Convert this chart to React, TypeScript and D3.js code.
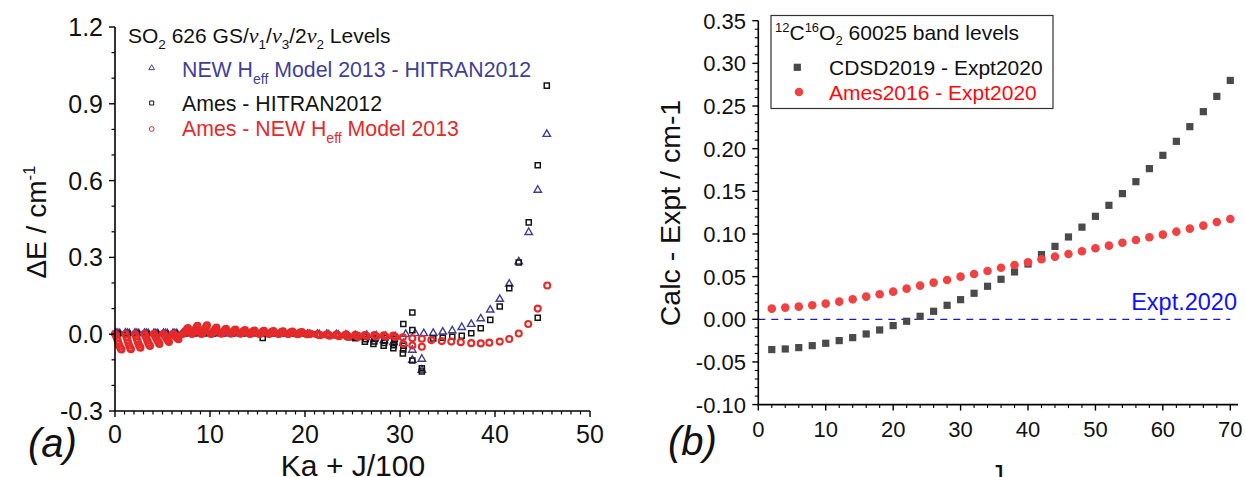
import React from 'react';
import * as d3 from 'd3';

const FONT = "'Liberation Sans', Arial, Helvetica, sans-serif";
const SERIF = "'Liberation Serif', 'DejaVu Serif', serif";

// ---------------- Panel (a): SO2 levels, x = Ka + J/100 ----------------
const J_GRID = [0, 10, 20, 30, 40, 50, 60, 68];
// Ames - NEW Heff Model 2013, one row per Ka (0..29), values at J_GRID
const AMES_NEW_ROWS: (number | null)[][] = [
  [0.002, -0.006, -0.016, -0.027, -0.038, -0.048, -0.056, -0.060],
  [null, 0.001, -0.010, -0.022, -0.034, -0.045, -0.054, -0.059],
  [null, 0.001, -0.008, -0.019, -0.030, -0.040, -0.048, -0.053],
  [null, 0.002, -0.006, -0.015, -0.025, -0.034, -0.041, -0.046],
  [null, 0.002, -0.004, -0.012, -0.020, -0.027, -0.033, -0.038],
  [null, 0.002, -0.002, -0.008, -0.014, -0.020, -0.026, -0.030],
  [null, 0.002, 0.000, -0.004, -0.009, -0.013, -0.017, -0.020],
  [null, 0.001, 0.003, 0.006, 0.010, 0.015, 0.020, 0.024],
  [null, 0.001, 0.004, 0.008, 0.014, 0.020, 0.027, 0.033],
  [null, 0.001, 0.004, 0.009, 0.015, 0.022, 0.029, 0.035],
  [null, 0.001, 0.003, 0.007, 0.011, 0.016, 0.021, 0.026],
  [null, null, 0.002, 0.005, 0.009, 0.013, 0.017, 0.021],
  [null, null, 0.002, 0.005, 0.008, 0.011, 0.015, 0.018],
  [null, null, 0.002, 0.004, 0.007, 0.010, 0.013, 0.016],
  [null, null, 0.001, 0.003, 0.006, 0.009, 0.012, 0.014],
  [null, null, 0.001, 0.003, 0.005, 0.008, 0.011, 0.013],
  [null, null, 0.001, 0.003, 0.005, 0.007, 0.010, 0.012],
  [null, null, 0.001, 0.002, 0.004, 0.006, 0.009, 0.011],
  [null, null, 0.001, 0.002, 0.004, 0.006, 0.008, 0.010],
  [null, null, 0.000, 0.001, 0.003, 0.005, 0.006, 0.008],
  [null, null, 0.000, 0.000, 0.001, 0.001, 0.002, null],
  [null, null, null, 0.000, -0.001, -0.002, -0.004, null],
  [null, null, null, 0.000, -0.002, -0.004, -0.006, null],
  [null, null, null, -0.001, -0.003, -0.005, -0.008, null],
  [null, null, null, -0.001, -0.004, -0.007, -0.010, null],
  [null, null, null, -0.002, -0.005, -0.008, -0.011, null],
  [null, null, null, -0.003, -0.005, -0.008, null, null],
  [null, null, null, -0.003, -0.006, -0.009, null, null],
  [null, null, null, -0.004, -0.007, -0.010, null, null],
  [null, null, null, -0.005, -0.008, -0.011, null, null],
];
const AMES_NEW_HIGH: [number, number][] = [
  [30.3, -0.012], [30.35, -0.038], [31.3, -0.016], [31.3, -0.044], [32.3, -0.018], [32.3, -0.049],
  [33.3, -0.023], [34.4, -0.027], [35.4, -0.029], [36.4, -0.031], [37.5, -0.035], [38.5, -0.036],
  [39.4, -0.033], [40.5, -0.029], [41.5, -0.019], [42.5, 0.003], [43.5, 0.040], [44.5, 0.100], [45.5, 0.190],
];

// NEW Heff Model 2013 - HITRAN2012
const BB_J = [10, 30, 50];
const NEW_HIT_ROWS: (number | null)[][] = [
  [0.005, 0.004, 0.003], [0.005, 0.004, 0.003], [0.005, 0.004, 0.003], [0.004, 0.004, 0.003],
  [0.004, 0.003, 0.003], [0.004, 0.003, 0.003], [0.004, 0.003, 0.003], [0.003, 0.003, 0.003],
  [0.003, 0.003, 0.003], [0.003, 0.003, 0.002], [0.003, 0.003, 0.002], [null, 0.003, 0.002],
  [null, 0.003, 0.002], [null, 0.002, 0.002], [null, 0.002, 0.002], [null, 0.002, 0.001],
  [null, 0.002, 0.001], [null, 0.001, 0.001], [null, 0.001, 0.000], [null, 0.001, 0.000],
  [null, 0.001, 0.000], [null, 0.000, -0.001], [null, 0.000, -0.002], [null, -0.001, -0.003],
  [null, -0.003, -0.006], [null, -0.005, -0.010], [null, -0.010, -0.004], [null, -0.016, -0.006],
  [null, -0.024, -0.008], [null, -0.032, -0.010],
];
const NEW_HIT_HIGH: [number, number][] = [
  [30.35, -0.036], [30.6, 0.000], [31.3, -0.062], [31.3, -0.101], [31.6, 0.003], [32.3, -0.097],
  [32.3, -0.140], [32.5, 0.003], [33.5, 0.004], [34.5, 0.009], [35.5, 0.014], [36.5, 0.027],
  [37.5, 0.039], [38.5, 0.061], [39.5, 0.095], [40.5, 0.137], [41.5, 0.196], [42.5, 0.283],
  [43.55, 0.398], [44.5, 0.563], [45.45, 0.781],
];

// Ames - HITRAN2012
const AMES_HIT_LOW: [number, number][] = [
  [0.3, 0.002], [1.3, 0.002], [2.3, 0.002], [3.3, 0.002], [4.3, 0.002], [5.3, 0.002], [6.3, 0.003],
  [7.3, 0.003], [8.3, 0.004], [9.3, 0.004], [10.3, 0.003], [11.3, 0.003], [12.3, 0.003], [13.3, 0.002],
  [14.3, 0.002], [15.55, -0.015], [16.3, 0.002], [17.3, 0.002], [18.3, 0.003], [19.6, 0.006],
  [20.3, 0.001], [21.3, 0.000], [22.3, -0.002], [23.3, -0.004], [24.3, -0.003], [24.45, -0.008],
  [24.6, -0.012], [25.3, -0.016], [25.4, -0.010], [25.5, -0.005], [26.3, -0.029], [26.38, -0.020],
  [26.46, -0.011], [27.2, -0.038], [27.3, -0.028], [27.4, -0.017], [28.28, -0.045], [28.34, -0.034],
  [28.4, -0.024], [28.46, -0.014], [29.3, -0.055], [29.35, -0.043], [29.4, -0.030], [29.46, -0.018],
];
const AMES_HIT_HIGH: [number, number][] = [
  [30.3, -0.075], [30.35, -0.060], [30.4, -0.045], [30.35, 0.040], [31.3, 0.085], [31.3, 0.016],
  [31.3, -0.103], [32.3, -0.133], [32.3, -0.146], [33.5, -0.017], [34.5, -0.014], [35.5, -0.010],
  [36.5, -0.006], [37.5, 0.004], [38.5, 0.023], [39.5, 0.056], [40.5, 0.108], [41.5, 0.180],
  [42.5, 0.280], [43.55, 0.437], [44.5, 0.660], [44.5, 0.064], [45.45, 0.971],
];

const A_X_TICKS = [0, 10, 20, 30, 40, 50];
const A_Y_TICKS = [-0.3, 0.0, 0.3, 0.6, 0.9, 1.2];

// ---------------- Panel (b): 12C16O2 60025 band ----------------
const J_VALUES = [2, 4, 6, 8, 10, 12, 14, 16, 18, 20, 22, 24, 26, 28, 30, 32, 34, 36, 38, 40, 42, 44, 46, 48, 50, 52, 54, 56, 58, 60, 62, 64, 66, 68, 70];
const CDSD_MINUS_EXPT = [
  -0.0355, -0.0348, -0.0332, -0.0309, -0.0281, -0.0250, -0.0215, -0.0172, -0.0125, -0.0074, -0.0023, 0.0035,
  0.0094, 0.0164, 0.0230, 0.0305, 0.0387, 0.0469, 0.0555, 0.0648, 0.0758, 0.0855, 0.0965, 0.1080,
  0.1207, 0.1336, 0.1473, 0.1613, 0.1766, 0.1922, 0.2086, 0.2258, 0.2434, 0.2613, 0.2800,
];
const AMES_MINUS_EXPT = [
  0.0125, 0.0137, 0.0148, 0.0164, 0.0184, 0.0207, 0.0234, 0.0266, 0.0293, 0.0324, 0.0359, 0.0395,
  0.0430, 0.0461, 0.0500, 0.0531, 0.0566, 0.0605, 0.0637, 0.0668, 0.0703, 0.0734, 0.0766, 0.0797,
  0.0832, 0.0863, 0.0898, 0.0930, 0.0961, 0.0992, 0.1027, 0.1063, 0.1098, 0.1141, 0.1176,
];
const B_X_TICKS = [0, 10, 20, 30, 40, 50, 60, 70];
const B_Y_TICKS = [-0.10, -0.05, 0.00, 0.05, 0.10, 0.15, 0.20, 0.25, 0.30, 0.35];

const BLUE = '#3f3f98';
const RED = '#e52a2a';
const BLACK = '#151515';

const triPath = d3.symbol().type(d3.symbolTriangle).size(24)() as string;
const sqPath = d3.symbol().type(d3.symbolSquare).size(26)() as string;
const triLeg = d3.symbol().type(d3.symbolTriangle).size(14)() as string;
const sqLeg = d3.symbol().type(d3.symbolSquare).size(16)() as string;

const locale = d3.formatLocale({ decimal: '.', thousands: ',', grouping: [3], currency: ['', ''], minus: '-' });
const fmtA = locale.format('.1f');
const fmtB = locale.format('.2f');

function rowsToPoints(rows: (number | null)[][], grid: number[]): [number, number][] {
  const out: [number, number][] = [];
  rows.forEach((row, ka) => row.forEach((v, i) => { if (v != null) out.push([ka + grid[i] / 100, v]); }));
  return out;
}

export default function App() {
  // panel a scales
  const xA = d3.scaleLinear().domain([0, 50]).range([115, 590]);
  const yA = d3.scaleLinear().domain([-0.3, 1.2]).range([411, 27]);
  // panel b scales
  const xB = d3.scaleLinear().domain([0, 70]).range([758.3, 1230.3]);
  const yB = d3.scaleLinear().domain([-0.1, 0.35]).range([404.6, 20.7]);

  const redPts = rowsToPoints(AMES_NEW_ROWS, J_GRID).concat(AMES_NEW_HIGH);
  const bluePts = rowsToPoints(NEW_HIT_ROWS, BB_J).concat(NEW_HIT_HIGH);
  const blackPts = AMES_HIT_LOW.concat(AMES_HIT_HIGH);

  const aMinorX = d3.range(0, 51).filter((v) => v % 10 !== 0);
  const aMinorY = d3.range(-3, 13).map((v) => v / 10).filter((v) => Math.abs(Math.round(v * 10) % 3) !== 0);
  const bMinorX = d3.range(0, 72, 2).filter((v) => v % 10 !== 0);
  const bMinorY = d3.range(-10, 36).map((v) => v / 100).filter((v) => Math.round(v * 100) % 5 !== 0);

  return (
    <svg width={1245} height={477} style={{ position: 'absolute', left: 0, top: 0, background: '#fff' }} fontFamily={FONT}>
      <rect x={0} y={0} width={1245} height={477} fill="#fff" />
      {/* ================= Panel (a) ================= */}
      <g>
        {bluePts.map(([x, v], i) => (
          <path key={'b' + i} d={triPath} transform={`translate(${xA(x)},${yA(v)})`} fill="none" stroke={BLUE} strokeWidth={1.4} />
        ))}
        {blackPts.map(([x, v], i) => (
          <path key={'k' + i} d={sqPath} transform={`translate(${xA(x)},${yA(v)})`} fill="none" stroke={BLACK} strokeWidth={1.5} />
        ))}
        {redPts.map(([x, v], i) => (
          <circle key={'r' + i} cx={xA(x)} cy={yA(v)} r={3.0} fill="none" stroke={RED} strokeWidth={2.1} />
        ))}
        {/* axes */}
        <line x1={xA(0)} x2={xA(0)} y1={yA(1.2)} y2={yA(-0.3)} stroke="#000" strokeWidth={1.6} />
        <line x1={xA(0)} x2={xA(50)} y1={yA(-0.3)} y2={yA(-0.3)} stroke="#000" strokeWidth={1.6} />
        {A_Y_TICKS.map((t) => (
          <g key={'ay' + t}>
            <line x1={xA(0) - 6} x2={xA(0)} y1={yA(t)} y2={yA(t)} stroke="#000" strokeWidth={1.4} />
            <text x={xA(0) - 12} y={yA(t)} dy="0.36em" textAnchor="end" fontSize={25} fill="#111">{fmtA(t)}</text>
          </g>
        ))}
        {aMinorY.map((t) => (
          <line key={'amy' + t} x1={xA(0) - 3.5} x2={xA(0)} y1={yA(t)} y2={yA(t)} stroke="#000" strokeWidth={1.2} />
        ))}
        {A_X_TICKS.map((t) => (
          <g key={'ax' + t}>
            <line x1={xA(t)} x2={xA(t)} y1={yA(-0.3)} y2={yA(-0.3) + 6} stroke="#000" strokeWidth={1.4} />
            <text x={xA(t)} y={443} textAnchor="middle" fontSize={25} fill="#111">{t}</text>
          </g>
        ))}
        {aMinorX.map((t) => (
          <line key={'amx' + t} x1={xA(t)} x2={xA(t)} y1={yA(-0.3)} y2={yA(-0.3) + 3.5} stroke="#000" strokeWidth={1.2} />
        ))}
        {/* axis titles */}
        <text transform="translate(46,222) rotate(-90)" textAnchor="middle" fontSize={28} fill="#111">
          ΔE / cm<tspan dy={-11} fontSize={17}>-1</tspan>
        </text>
        <text x={353} y={476} textAnchor="middle" fontSize={30} fill="#111">Ka + J/100</text>
        <text x={28} y={457} fontSize={40} fontStyle="italic" fill="#111">(a)</text>
        {/* legend */}
        <text x={128} y={43} fontSize={21} fill="#111">
          SO<tspan dy={6} fontSize={13.5}>2</tspan>
          <tspan dy={-6}> 626 GS/</tspan>
          <tspan fontFamily={SERIF} fontStyle="italic" fontSize={22}>ν</tspan>
          <tspan dy={6} fontSize={13.5}>1</tspan>
          <tspan dy={-6}>/</tspan>
          <tspan fontFamily={SERIF} fontStyle="italic" fontSize={22}>ν</tspan>
          <tspan dy={6} fontSize={13.5}>3</tspan>
          <tspan dy={-6}>/2</tspan>
          <tspan fontFamily={SERIF} fontStyle="italic" fontSize={22}>ν</tspan>
          <tspan dy={6} fontSize={13.5}>2</tspan>
          <tspan dy={-6}> Levels</tspan>
        </text>
        <path d={triLeg} transform="translate(151.7,68)" fill="none" stroke={BLUE} strokeWidth={1} />
        <text x={182} y={77} fontSize={21.3} fill={BLUE}>
          NEW H<tspan dy={7} fontSize={14}>eff</tspan><tspan dy={-7}> Model 2013 - HITRAN2012</tspan>
        </text>
        <path d={sqLeg} transform="translate(151.7,103)" fill="none" stroke={BLACK} strokeWidth={1} />
        <text x={182} y={111} fontSize={21.3} fill={BLACK}>Ames - HITRAN2012</text>
        <circle cx={151.7} cy={129} r={2.4} fill="none" stroke={RED} strokeWidth={1} />
        <text x={182} y={136} fontSize={21.3} fill={RED}>
          Ames - NEW H<tspan dy={7} fontSize={14}>eff</tspan><tspan dy={-7}> Model 2013</tspan>
        </text>
      </g>

      {/* ================= Panel (b) ================= */}
      <g>
        <line x1={xB(0)} x2={xB(70)} y1={yB(0)} y2={yB(0)} stroke="#1a1acc" strokeWidth={1.3} strokeDasharray="7,6" />
        <text x={1237} y={310} textAnchor="end" fontSize={23.5} fill="#1010ff">Expt.2020</text>
        {J_VALUES.map((j, i) => (
          <rect key={'s' + j} x={xB(j) - 3.6} y={yB(CDSD_MINUS_EXPT[i]) - 3.6} width={7.2} height={7.2} fill="#4a4a4a" />
        ))}
        {J_VALUES.map((j, i) => (
          <circle key={'c' + j} cx={xB(j)} cy={yB(AMES_MINUS_EXPT[i])} r={4.3} fill="#f04242" />
        ))}
        {/* axes */}
        <line x1={xB(0)} x2={xB(0)} y1={yB(0.35)} y2={yB(-0.1)} stroke="#000" strokeWidth={1.6} />
        <line x1={xB(0)} x2={1238} y1={yB(-0.1)} y2={yB(-0.1)} stroke="#000" strokeWidth={1.6} />
        {B_Y_TICKS.map((t) => (
          <g key={'by' + t}>
            <line x1={xB(0) - 6} x2={xB(0)} y1={yB(t)} y2={yB(t)} stroke="#000" strokeWidth={1.4} />
            <text x={746} y={yB(t)} dy="0.36em" textAnchor="end" fontSize={22} fill="#111">{fmtB(t)}</text>
          </g>
        ))}
        {bMinorY.map((t) => (
          <line key={'bmy' + t} x1={xB(0) - 3.5} x2={xB(0)} y1={yB(t)} y2={yB(t)} stroke="#000" strokeWidth={1.1} />
        ))}
        {B_X_TICKS.map((t) => (
          <g key={'bx' + t}>
            <line x1={xB(t)} x2={xB(t)} y1={yB(-0.1)} y2={yB(-0.1) + 6} stroke="#000" strokeWidth={1.4} />
            <text x={xB(t)} y={437} textAnchor="middle" fontSize={22} fill="#111">{t}</text>
          </g>
        ))}
        {bMinorX.map((t) => (
          <line key={'bmx' + t} x1={xB(t)} x2={xB(t)} y1={yB(-0.1)} y2={yB(-0.1) + 3.5} stroke="#000" strokeWidth={1.1} />
        ))}
        <text transform="translate(680,213) rotate(-90)" textAnchor="middle" fontSize={28.5} fill="#111">Calc - Expt / cm-1</text>
        <text x={997} y={484} textAnchor="middle" fontSize={28} fill="#111">J</text>
        <text x={668} y={455} fontSize={40} fontStyle="italic" fill="#111">(b)</text>
        {/* legend */}
        <rect x={771} y={15.5} width={282} height={93} fill="#fff" stroke="#333" strokeWidth={1.2} />
        <text x={775} y={40} fontSize={21} fill="#111">
          <tspan dy={-8} fontSize={13}>12</tspan>
          <tspan dy={8}>C</tspan>
          <tspan dy={-8} fontSize={13}>16</tspan>
          <tspan dy={8}>O</tspan>
          <tspan dy={5} fontSize={13}>2</tspan>
          <tspan dy={-5}> 60025 band levels</tspan>
        </text>
        <rect x={797.3 - 3.6} y={67.3 - 3.6} width={7.2} height={7.2} fill="#4a4a4a" />
        <text x={829} y={74.5} fontSize={21} fill="#111">CDSD2019 - Expt2020</text>
        <circle cx={799} cy={92} r={4.3} fill="#f04242" />
        <text x={829} y={99.5} fontSize={21} fill="#ff0a0a">Ames2016 - Expt2020</text>
      </g>
    </svg>
  );
}
